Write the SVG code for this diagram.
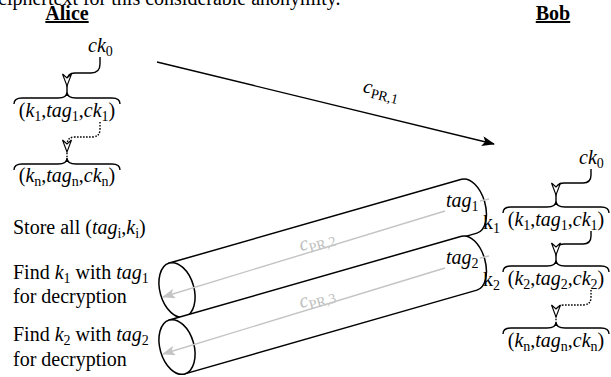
<svg xmlns="http://www.w3.org/2000/svg" width="611" height="377" viewBox="0 0 611 377" font-family="'Liberation Serif', 'DejaVu Serif', serif">
<style>
text{font-family:'Liberation Serif','DejaVu Serif',serif;font-size:20px;fill:#000}
.it{font-style:italic}
.sub{font-size:14px;font-style:normal}
.b{font-weight:bold;text-decoration:underline}
.ln{fill:none;stroke:#000;stroke-width:1.4}
.dot{stroke-dasharray:1.6 1.4}
.br{fill:none;stroke:#000;stroke-width:1.4}
.cyl{fill:#fff;stroke:#000;stroke-width:1.5}
.gt{fill:#bdbdbd}
.gl{fill:none;stroke:#c4c4c4;stroke-width:1.4}
.ah{fill:#fff;stroke:#000;stroke-width:1.1}
</style>
<defs>
<path id="ah" class="ah" d="M0,0 L-4.5,-12 L0,-8 L4.5,-12 Z"/>
<path id="brace" class="br" d="M-53,12 Q-53,6 -45,6 H-9 Q0,6 0,0 Q0,6 9,6 H45 Q53,6 53,12"/>
<marker id="blk" markerWidth="14" markerHeight="10" refX="12" refY="5" orient="auto" markerUnits="userSpaceOnUse">
<path d="M0,0 L13,5 L0,10 L3,5 Z" fill="#000"/>
</marker>
<marker id="gry" markerWidth="14" markerHeight="10" refX="12" refY="5" orient="auto" markerUnits="userSpaceOnUse">
<path d="M0,0 L13,5 L0,10 L3,5 Z" fill="#c4c4c4"/>
</marker>
</defs>

<text x="-2" y="5">ciphertext for this considerable anonymity.</text>

<g id="alice-label"><text x="67" y="20" text-anchor="middle" class="b">Alice</text></g>
<g id="bob-label"><text x="553" y="20" text-anchor="middle" class="b">Bob</text></g>

<g id="alice-ck0"><text x="88" y="52" class="it">ck<tspan class="sub" dy="4">0</tspan></text></g>
<g id="alice-t1">
<use href="#brace" x="67" y="92"/>
<text x="67" y="117" text-anchor="middle">(<tspan class="it">k</tspan><tspan class="sub" dy="4">1</tspan><tspan dy="-4">,</tspan><tspan class="it">tag</tspan><tspan class="sub" dy="4">1</tspan><tspan dy="-4">,</tspan><tspan class="it">ck</tspan><tspan class="sub" dy="4">1</tspan><tspan dy="-4">)</tspan></text>
</g>
<g id="alice-tn">
<use href="#brace" x="67" y="158"/>
<text x="67" y="182" text-anchor="middle">(<tspan class="it">k</tspan><tspan class="sub" dy="4">n</tspan><tspan dy="-4">,</tspan><tspan class="it">tag</tspan><tspan class="sub" dy="4">n</tspan><tspan dy="-4">,</tspan><tspan class="it">ck</tspan><tspan class="sub" dy="4">n</tspan><tspan dy="-4">)</tspan></text>
</g>

<g id="bob-ck0"><text x="579" y="164" class="it">ck<tspan class="sub" dy="4">0</tspan></text></g>
<g id="bob-t1">
<use href="#brace" x="556" y="201"/>
<text x="556" y="226" text-anchor="middle">(<tspan class="it">k</tspan><tspan class="sub" dy="4">1</tspan><tspan dy="-4">,</tspan><tspan class="it">tag</tspan><tspan class="sub" dy="4">1</tspan><tspan dy="-4">,</tspan><tspan class="it">ck</tspan><tspan class="sub" dy="4">1</tspan><tspan dy="-4">)</tspan></text>
</g>
<g id="bob-t2">
<use href="#brace" x="556" y="260"/>
<text x="556" y="285" text-anchor="middle">(<tspan class="it">k</tspan><tspan class="sub" dy="4">2</tspan><tspan dy="-4">,</tspan><tspan class="it">tag</tspan><tspan class="sub" dy="4">2</tspan><tspan dy="-4">,</tspan><tspan class="it">ck</tspan><tspan class="sub" dy="4">2</tspan><tspan dy="-4">)</tspan></text>
</g>
<g id="bob-tn">
<use href="#brace" x="556" y="322"/>
<text x="556" y="347" text-anchor="middle">(<tspan class="it">k</tspan><tspan class="sub" dy="4">n</tspan><tspan dy="-4">,</tspan><tspan class="it">tag</tspan><tspan class="sub" dy="4">n</tspan><tspan dy="-4">,</tspan><tspan class="it">ck</tspan><tspan class="sub" dy="4">n</tspan><tspan dy="-4">)</tspan></text>
</g>

<g id="notes">
<text x="13" y="234">Store all (<tspan class="it">tag</tspan><tspan class="sub" dy="4">i</tspan><tspan dy="-4">,</tspan><tspan class="it">k</tspan><tspan class="sub" dy="4">i</tspan><tspan dy="-4">)</tspan></text>
<text x="13" y="279">Find <tspan class="it">k</tspan><tspan class="sub" dy="4">1</tspan><tspan dy="-4"> with </tspan><tspan class="it">tag</tspan><tspan class="sub" dy="4">1</tspan></text>
<text x="13" y="303">for decryption</text>
<text x="13" y="341">Find <tspan class="it">k</tspan><tspan class="sub" dy="4">2</tspan><tspan dy="-4"> with </tspan><tspan class="it">tag</tspan><tspan class="sub" dy="4">2</tspan></text>
<text x="13" y="366">for decryption</text>
</g>

<g id="cyl1">
<g transform="translate(177,290) rotate(-16)">
<path class="cyl" d="M0,-28 H304 A16,28 0 0 1 304,28 H0 Z"/>
<ellipse class="cyl" cx="0" cy="0" rx="17" ry="28"/>
<text x="148" y="-3" text-anchor="middle" class="it gt">c<tspan class="sub gt" dy="4">PR,2</tspan></text>
</g>
<line class="gl" x1="489" y1="199" x2="480" y2="201"/>
<line class="gl" x1="445" y1="211" x2="163" y2="297" marker-end="url(#gry)"/>
<text x="446" y="207" class="it">tag<tspan class="sub" dy="4">1</tspan></text>
<text x="483" y="229">k<tspan class="sub" dy="4">1</tspan></text>
</g>

<g id="cyl2">
<g transform="translate(177,347) rotate(-16)">
<path class="cyl" d="M0,-28 H304 A16,28 0 0 1 304,28 H0 Z"/>
<ellipse class="cyl" cx="0" cy="0" rx="17" ry="28"/>
<text x="148" y="-3" text-anchor="middle" class="it gt">c<tspan class="sub gt" dy="4">PR,3</tspan></text>
</g>
<line class="gl" x1="489" y1="256" x2="480" y2="258"/>
<line class="gl" x1="445" y1="268" x2="163" y2="354" marker-end="url(#gry)"/>
<text x="446" y="264" class="it">tag<tspan class="sub" dy="4">2</tspan></text>
<text x="483" y="286">k<tspan class="sub" dy="4">2</tspan></text>
</g>

<g id="connectors">
<path class="ln" d="M100,57 V64 Q100,73 91,73 H75 Q67,73 67,81 V92"/>
<use href="#ah" x="67" y="86"/>
<path class="ln dot" d="M100,122 V129 Q100,137 92,137 H75 Q67,137 67,145 V158"/>
<use href="#ah" x="67" y="152"/>
<path class="ln" d="M591,169 V175 Q591,183 583,183 H564 Q556,183 556,191 V201"/>
<use href="#ah" x="556" y="195"/>
<path class="ln" d="M591,231 V236 Q591,244 583,244 H564 Q556,244 556,252 V260"/>
<use href="#ah" x="556" y="255"/>
<path class="ln dot" d="M591,290 V297 Q591,305 583,305 H564 Q556,305 556,313 V322"/>
<use href="#ah" x="556" y="317"/>
<line class="ln" x1="157" y1="62" x2="494" y2="144" marker-end="url(#blk)"/>
<text transform="translate(380,96) rotate(13.5)" text-anchor="middle" class="it">c<tspan class="sub" dy="4">PR,1</tspan></text>
</g>
</svg>
